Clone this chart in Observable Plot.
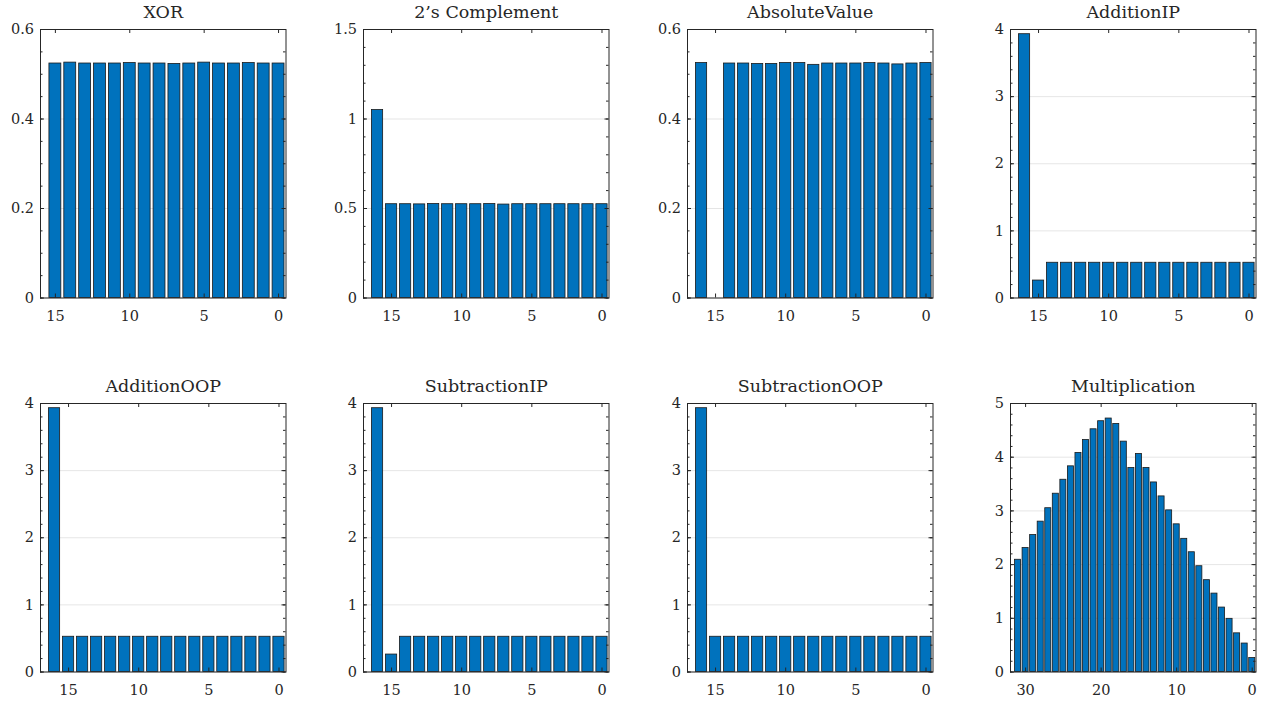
<!DOCTYPE html>
<html><head><meta charset="utf-8">
<script src="https://cdn.jsdelivr.net/npm/d3@7"></script>
<script src="https://cdn.jsdelivr.net/npm/@observablehq/plot@0.6"></script>
<style>
body{margin:0;background:#fff;}
#chart{position:relative;width:1268px;height:702px;overflow:hidden;background:#fff;}
#chart svg{position:absolute;}
</style></head><body><div id="chart"></div>
<script>
// ---- data (bars listed left to right, i.e. from the highest bit down to 0) ----
const bits16 = [15,14,13,12,11,10,9,8,7,6,5,4,3,2,1,0];
const bits17 = [16,15,14,13,12,11,10,9,8,7,6,5,4,3,2,1,0];
const bits32 = [31,30,29,28,27,26,25,24,23,22,21,20,19,18,17,16,15,14,13,12,11,10,9,8,7,6,5,4,3,2,1,0];

const xorValues = [0.524,0.526,0.524,0.524,0.524,0.525,0.524,0.524,0.523,0.524,0.526,0.524,0.524,0.525,0.524,0.524];
const twosComplementValues = [1.05,0.524,0.524,0.523,0.525,0.524,0.524,0.524,0.525,0.522,0.524,0.524,0.524,0.524,0.524,0.524,0.524];
const absoluteValueValues = [0.525,0,0.524,0.524,0.523,0.523,0.525,0.525,0.521,0.524,0.524,0.524,0.525,0.524,0.522,0.524,0.525];
const additionIPValues = [3.93,0.26,0.525,0.525,0.525,0.525,0.525,0.525,0.525,0.525,0.525,0.525,0.525,0.525,0.525,0.525,0.525];
const additionOOPValues = [3.93,0.525,0.525,0.525,0.525,0.525,0.525,0.525,0.525,0.525,0.525,0.525,0.525,0.525,0.525,0.525,0.525];
const subtractionIPValues = [3.93,0.26,0.525,0.525,0.525,0.525,0.525,0.525,0.525,0.525,0.525,0.525,0.525,0.525,0.525,0.525,0.525];
const subtractionOOPValues = [3.93,0.525,0.525,0.525,0.525,0.525,0.525,0.525,0.525,0.525,0.525,0.525,0.525,0.525,0.525,0.525,0.525];
const multiplicationValues = [2.09,2.31,2.55,2.80,3.05,3.32,3.58,3.83,4.08,4.32,4.52,4.67,4.72,4.62,4.29,3.80,4.06,3.80,3.53,3.27,3.01,2.75,2.48,2.23,1.97,1.71,1.46,1.20,0.99,0.72,0.53,0.26];

const titles = ["XOR","2\u2019s Complement","AbsoluteValue","AdditionIP","AdditionOOP","SubtractionIP","SubtractionOOP","Multiplication"];
const xTicks16 = [0,5,10,15];
const xTicks32 = [0,10,20,30];
const yTicksSmall = [0,0.2,0.4,0.6];
const yTicksTwos = [0,0.5,1,1.5];
const yTicks4 = [0,1,2,3,4];
const yTicks5 = [0,1,2,3,4,5];

// ---- layout ----
const panelLefts = [40, 362.7, 686.7, 1010];
const rowTops = [29.3, 403.3];
const FW = 245.5, FH = 268.5;
const ML = 50, MR = 14, MT = 34, MB = 36;
const INK = "#262626";
const FONT = "'DejaVu Serif', serif";

const panels = [
  {title: titles[0], bits: bits16, values: xorValues, xMax: 16, xTicks: xTicks16, yMax: 0.6, yTicks: yTicksSmall, minor: 0.05},
  {title: titles[1], bits: bits17, values: twosComplementValues, xMax: 17, xTicks: xTicks16, yMax: 1.5, yTicks: yTicksTwos, minor: 0.1},
  {title: titles[2], bits: bits17, values: absoluteValueValues, xMax: 17, xTicks: xTicks16, yMax: 0.6, yTicks: yTicksSmall, minor: 0.05},
  {title: titles[3], bits: bits17, values: additionIPValues, xMax: 17, xTicks: xTicks16, yMax: 4, yTicks: yTicks4, minor: 0.2},
  {title: titles[4], bits: bits17, values: additionOOPValues, xMax: 17, xTicks: xTicks16, yMax: 4, yTicks: yTicks4, minor: 0.2},
  {title: titles[5], bits: bits17, values: subtractionIPValues, xMax: 17, xTicks: xTicks16, yMax: 4, yTicks: yTicks4, minor: 0.2},
  {title: titles[6], bits: bits17, values: subtractionOOPValues, xMax: 17, xTicks: xTicks16, yMax: 4, yTicks: yTicks4, minor: 0.2},
  {title: titles[7], bits: bits32, values: multiplicationValues, xMax: 32, xTicks: xTicks32, yMax: 5, yTicks: yTicks5, minor: 0.2}
];

const chart = document.getElementById("chart");

panels.forEach((p, k) => {
  const left = panelLefts[k % 4], top = rowTops[Math.floor(k / 4)];
  const data = p.bits.map((b, i) => ({b, v: p.values[i]}));
  const yMinor = d3.range(0, Math.round(p.yMax / p.minor) + 1).map(i => +(i * p.minor).toFixed(4));
  const svg = Plot.plot({
    width: ML + FW + MR,
    height: MT + FH + MB,
    marginLeft: ML, marginRight: MR, marginTop: MT, marginBottom: MB,
    style: {fontFamily: FONT, color: INK, background: "transparent", overflow: "visible"},
    x: {domain: [p.xMax, -0.5]},
    y: {domain: [0, p.yMax]},
    marks: [
      Plot.gridY(p.yTicks, {stroke: "#000", strokeOpacity: 0.1, strokeWidth: 1}),
      Plot.rectY(data, {x1: d => d.b - 0.4, x2: d => d.b + 0.4, y1: 0, y2: "v", fill: "#0072BD", stroke: "#1a1a1a", strokeWidth: 0.8, inset: 0}),
      Plot.frame({stroke: INK, strokeWidth: 1}),
      // inward ticks: left / right (major + minor), bottom / top (major)
      Plot.tickY(p.yTicks, {y: d => d, insetRight: FW - 4, stroke: INK}),
      Plot.tickY(p.yTicks, {y: d => d, insetLeft: FW - 4, stroke: INK}),
      Plot.tickY(yMinor, {y: d => d, insetRight: FW - 2.5, stroke: INK}),
      Plot.tickY(yMinor, {y: d => d, insetLeft: FW - 2.5, stroke: INK}),
      Plot.tickX(p.xTicks, {x: d => d, insetTop: FH - 4, stroke: INK}),
      Plot.tickX(p.xTicks, {x: d => d, insetBottom: FH - 4, stroke: INK}),
      Plot.axisX(p.xTicks, {label: null, tickSize: 0, tickPadding: 12.5, fontSize: 14.5, fontFamily: FONT, fill: INK, tickFormat: d => String(d)}),
      Plot.axisY(p.yTicks, {label: null, tickSize: 0, tickPadding: 6.5, fontSize: 14.5, fontFamily: FONT, fill: INK, tickFormat: d => String(d)}),
      Plot.text([p.title], {frameAnchor: "top", dy: -17, fontSize: 17.5, fontFamily: FONT, fill: INK, lineAnchor: "middle"})
    ]
  });
  svg.style.left = (left - ML) + "px";
  svg.style.top = (top - MT) + "px";
  chart.appendChild(svg);
});
</script>
</body></html>
